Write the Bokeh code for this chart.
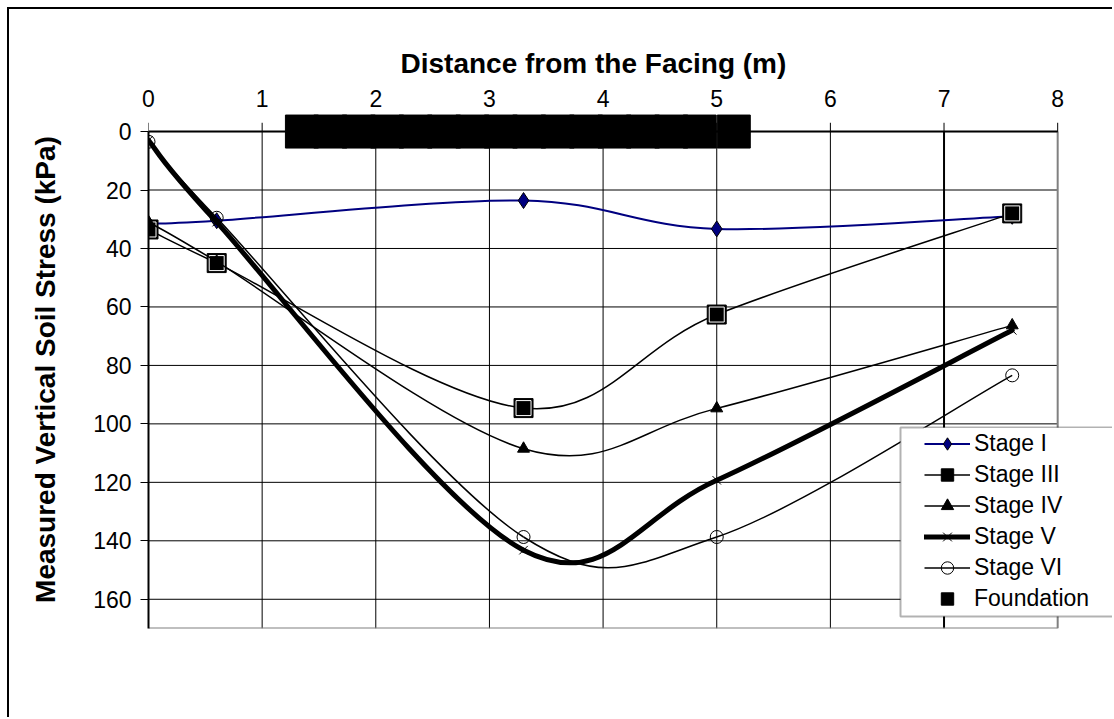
import numpy as np
from bokeh.plotting import figure
from bokeh.models import (Range1d, FixedTicker, Legend, LegendItem, BoxAnnotation,
                          ColumnDataSource, Title)
from bokeh.embed import file_html
from bokeh.resources import INLINE

# ---------------- data ----------------
distance = [0.0, 0.6, 3.3, 5.0, 7.6]
stage_1 = [31.5, 30.5, 23.6, 33.3, 29.0]
stage_3 = [33.5, 45.0, 94.6, 62.6, 28.0]
stage_4 = [31.0, 44.5, 108.5, 94.7, 66.3]
stage_5 = [3.0, 31.0, 143.2, 119.3, 68.0]
stage_6 = [3.5, 29.5, 138.7, 138.7, 83.4]
foundation_x = [1.35, 1.6, 1.85, 2.1, 2.35, 2.6, 2.85, 3.1, 3.35, 3.6, 3.85, 4.1,
                4.35, 4.6, 4.85, 5.15]
foundation_y = [0, 0, 0, 0, 0, 0, 0, 0, 0, 0, 0, 0, 0, 0, 0, 0]
x_ticks = [0, 1, 2, 3, 4, 5, 6, 7, 8]
y_ticks = [0, 20, 40, 60, 80, 100, 120, 140, 160]
y_max = 170
series_names = ["Stage I", "Stage III", "Stage IV", "Stage V", "Stage VI"]
x_title = "Distance from the Facing (m)"
y_title = "Measured Vertical Soil Stress (kPa)"

FONT = "Liberation Sans"


def smooth_source(xs, ys):
    """Cubic Bezier segments through the points (Excel-like smoothed line)."""
    P = np.column_stack([xs, ys]).astype(float)
    ext = np.vstack([P[0], P, P[-1]])
    cols = {k: [] for k in ("x0", "y0", "x1", "y1", "cx0", "cy0", "cx1", "cy1")}
    for i in range(len(P) - 1):
        pp, p0, p1, pn = ext[i], ext[i + 1], ext[i + 2], ext[i + 3]
        c0 = p0 + (p1 - pp) / 6.0
        c1 = p1 - (pn - p0) / 6.0
        cols["x0"].append(p0[0]); cols["y0"].append(p0[1])
        cols["x1"].append(p1[0]); cols["y1"].append(p1[1])
        cols["cx0"].append(c0[0]); cols["cy0"].append(c0[1])
        cols["cx1"].append(c1[0]); cols["cy1"].append(c1[1])
    return ColumnDataSource(cols)


p = figure(width=1105, height=710,
           x_range=Range1d(x_ticks[0], 8.5), y_range=Range1d(y_max, -7.2),
           x_axis_location="above", output_backend="svg", toolbar_location=None,
           min_border_left=139, min_border_right=0, min_border_top=101,
           min_border_bottom=91)
p.margin = (7, 0, 0, 7)
p.styles = {"border-left": "2px solid black", "border-top": "2px solid black",
            "border-right": "none", "border-bottom": "none"}
p.outline_line_color = None
p.background_fill_color = "white"
p.border_fill_color = "white"

# grids (drawn manually so they stop at the plot-area edges)
p.xgrid.visible = False
p.ygrid.visible = False

# x axis (top)
xa = p.xaxis[0]
xa.ticker = FixedTicker(ticks=x_ticks)
xa.bounds = (x_ticks[0], x_ticks[-1])
xa.axis_line_color = None
xa.major_tick_in = 0
xa.major_tick_out = 0
xa.minor_tick_line_color = None
xa.major_label_standoff = 4
xa.major_label_text_font = FONT
xa.major_label_text_font_size = "23px"
xa.major_label_text_color = "black"

# x axis title, centred over the 0..8 part of the plot area
p.add_layout(Title(text=x_title, align="left", offset=252, standoff=16,
                   text_font=FONT, text_font_size="28px", text_font_style="bold",
                   text_color="black"), "above")

# y axis (left)
ya = p.yaxis[0]
ya.ticker = FixedTicker(ticks=y_ticks)
ya.bounds = (0, y_max)
ya.axis_line_color = "black"
ya.axis_line_width = 2
ya.major_tick_out = 8
ya.major_tick_in = 0
ya.major_tick_line_color = "black"
ya.minor_tick_line_color = None
ya.major_label_standoff = 9
ya.major_label_text_font = FONT
ya.major_label_text_font_size = "23px"
ya.major_label_text_color = "black"
ya.axis_label = y_title
ya.axis_label_text_font = FONT
ya.axis_label_text_font_size = "28px"
ya.axis_label_text_font_style = "bold"
ya.axis_label_text_color = "black"
ya.axis_label_standoff = 29

# grid lines, plot-area borders and top axis ticks
inner_x = x_ticks[1:-1]
p.segment(x0=x_ticks[0], y0=y_ticks, x1=x_ticks[-1], y1=y_ticks, line_color="black",
          line_width=1)
p.segment(x0=inner_x, y0=0, x1=inner_x, y1=y_max, line_color="black",
          line_width=[1, 1, 1, 1, 1, 1, 2])
p.segment(x0=x_ticks[-1], y0=0, x1=x_ticks[-1], y1=y_max, line_color="#808080", line_width=2)
p.segment(x0=x_ticks[0], y0=y_max, x1=x_ticks[-1], y1=y_max, line_color="#808080", line_width=2)
p.segment(x0=x_ticks[0], y0=0, x1=x_ticks[-1], y1=0, line_color="black", line_width=2)
p.segment(x0=x_ticks, y0=0, x1=x_ticks, y1=-3, line_color="black", line_width=1)

# series
items = []

src = smooth_source(distance, stage_1)
l1 = p.bezier(x0="x0", y0="y0", x1="x1", y1="y1", cx0="cx0", cy0="cy0", cx1="cx1",
              cy1="cy1", source=src, line_color="#000080", line_width=2)
m1 = p.scatter(distance, stage_1, marker="diamond", size=16, fill_color="#000080",
               line_color="black", line_width=1)
items.append(LegendItem(label=series_names[0], renderers=[l1, m1]))

src = smooth_source(distance, stage_3)
l3 = p.bezier(x0="x0", y0="y0", x1="x1", y1="y1", cx0="cx0", cy0="cy0", cx1="cx1",
              cy1="cy1", source=src, line_color="black", line_width=1.5)
m3 = p.scatter(distance, stage_3, marker="square", size=19, fill_color="black",
               line_color="black", line_width=1)
m3b = p.scatter(distance, stage_3, marker="square", size=15, fill_color=None,
                line_color="white", line_width=1)
items.append(LegendItem(label=series_names[1], renderers=[l3, m3]))

src = smooth_source(distance, stage_4)
l4 = p.bezier(x0="x0", y0="y0", x1="x1", y1="y1", cx0="cx0", cy0="cy0", cx1="cx1",
              cy1="cy1", source=src, line_color="black", line_width=1.5)
m4 = p.scatter(distance, stage_4, marker="triangle", size=12, fill_color="black",
               line_color="black")
items.append(LegendItem(label=series_names[2], renderers=[l4, m4]))

src = smooth_source(distance, stage_5)
l5 = p.bezier(x0="x0", y0="y0", x1="x1", y1="y1", cx0="cx0", cy0="cy0", cx1="cx1",
              cy1="cy1", source=src, line_color="black", line_width=5,
              line_cap="round")
m5 = p.scatter(distance, stage_5, marker="x", size=12, line_color="black", line_width=1)
items.append(LegendItem(label=series_names[3], renderers=[l5, m5]))

src = smooth_source(distance, stage_6)
l6 = p.bezier(x0="x0", y0="y0", x1="x1", y1="y1", cx0="cx0", cy0="cy0", cx1="cx1",
              cy1="cy1", source=src, line_color="black", line_width=1.5)
m6 = p.scatter(distance, stage_6, marker="circle", size=13, fill_color=None,
               line_color="black", line_width=1)
items.append(LegendItem(label=series_names[4], renderers=[l6, m6]))

mf = p.scatter(foundation_x, foundation_y, marker="square", size=33, fill_color="black",
               line_color="black")
items.append(LegendItem(label="Foundation", renderers=[mf]))

# legend box
legend_box = BoxAnnotation(left=889, right=1300, top=416, bottom=605, left_units="canvas",
                           right_units="canvas", top_units="canvas",
                           bottom_units="canvas", fill_color="white", fill_alpha=1,
                           line_color="black", line_width=2)
p.add_layout(legend_box)

legend = Legend(items=items, location=(776, 14), margin=0, padding=2, spacing=0,
                glyph_width=46, glyph_height=31, label_height=31, label_width=160,
                label_standoff=4, label_text_font=FONT, label_text_font_size="23px",
                label_text_color="black", border_line_color=None,
                background_fill_color="white", background_fill_alpha=1)
p.add_layout(legend, "center")

open("out.html", "w").write(file_html(p, INLINE))
